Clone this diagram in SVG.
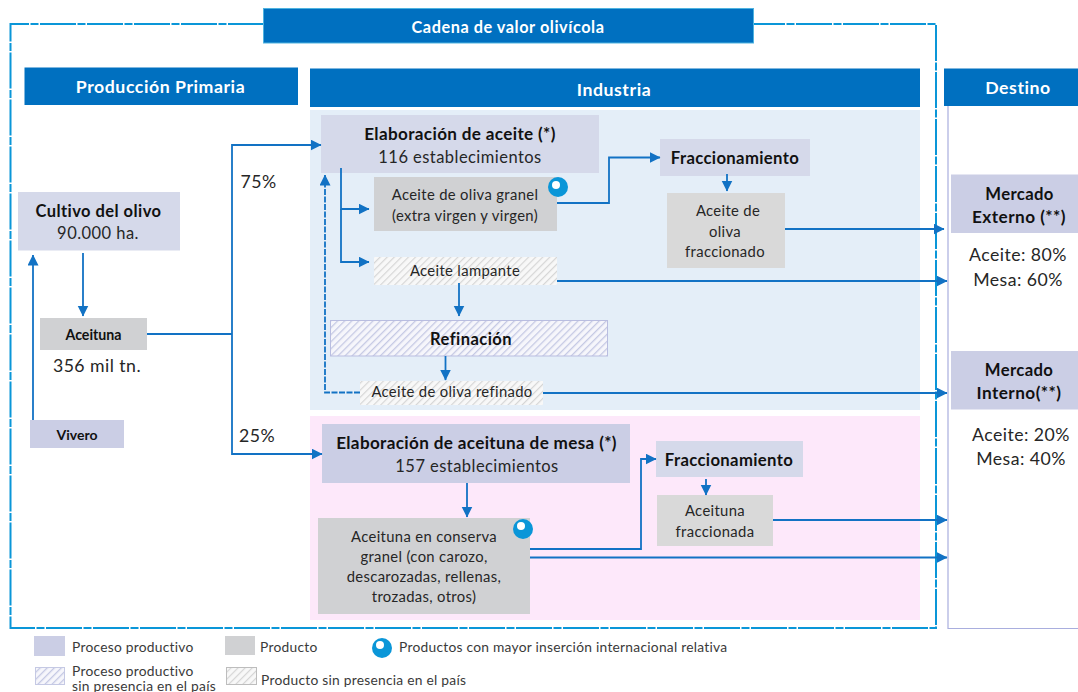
<svg xmlns="http://www.w3.org/2000/svg" width="1078" height="692" viewBox="0 0 1078 692">
<style>
text{font-family:"Lato","Open Sans","Liberation Sans",sans-serif;fill:#262626;transform:translateY(1px)}
.c{text-anchor:middle}
.b{font-weight:700;fill:#111}
.h{font-weight:700;fill:#fff;font-size:17.7px;letter-spacing:.55px}
.t15{font-size:16.700px;letter-spacing:.35px}
.t16{font-size:16.500px;letter-spacing:.45px}
.t17{font-size:17.700px;letter-spacing:.45px}
.t13{font-size:14.800px;letter-spacing:.35px}
.l{font-size:13.800px;letter-spacing:.25px;fill:#3a3a3a}
.head{fill:#0070c0}
.proc{fill:#cbcee5}
.procl{fill:#d5d9ea}
.prod{fill:#d0d1d3}
.prodl{fill:#d9d9d9}
.conn{fill:none;stroke:#1272c4;stroke-width:1.800}
.bub{fill:#0a96d8}
</style>
<defs>
<marker id="a" markerUnits="userSpaceOnUse" markerWidth="11" markerHeight="12" refX="10.500" refY="5.500" orient="auto"><path d="M0 0L11 5.500L0 11z" fill="#1272c4"/></marker>
<pattern id="hg" patternUnits="userSpaceOnUse" width="5" height="5" patternTransform="rotate(-45)"><rect width="5" height="5" fill="#f8f8f8"/><rect width="5" height="1.200" fill="#d6d6d6"/></pattern>
<pattern id="hp" patternUnits="userSpaceOnUse" width="5" height="5" patternTransform="rotate(-45)"><rect width="5" height="5" fill="#f6f6fb"/><rect width="5" height="1.300" fill="#c5c9e4"/></pattern>
</defs>

<g id="marco">
<path d="M264 24H10.500V628H936V24H753" fill="none" stroke="#0a96d8" stroke-width="2" stroke-dasharray="36 1.500 8 1.500"/>
<path d="M948 106V628.500H1078" fill="none" stroke="#a9aede" stroke-width="1.200"/>
</g>

<g id="fondos">
<rect x="310" y="110" width="610" height="300" fill="#e4eef8"/>
<rect x="310" y="416" width="610" height="204" fill="#fde8fa"/>
</g>

<g id="titulo"><rect x="263.500" y="8.500" width="490" height="34.500" class="head" stroke="#4fb3e0"/><text x="508" y="32" class="c b" style="fill:#fff;font-size:16.300px;letter-spacing:.55px">Cadena de valor olivícola</text></g>
<g id="produccion-primaria"><rect x="24.500" y="67.500" width="273.500" height="37.500" class="head"/><text x="160.500" y="92" class="c h">Producción Primaria</text></g>
<g id="industria"><rect x="310" y="68.500" width="610" height="38.500" class="head"/><text x="614" y="95" class="c h">Industria</text></g>
<g id="destino"><rect x="944" y="68.500" width="134" height="37.500" class="head"/><text x="1018" y="93" class="c h">Destino</text></g>

<g id="cultivo"><rect x="18" y="192" width="162" height="58.500" class="procl"/><text x="98.500" y="216" class="c b t16">Cultivo del olivo</text><text x="98" y="238" class="c" style="font-size:16.500px;letter-spacing:.45px">90.000 ha.</text></g>
<g id="aceituna"><rect x="40" y="318" width="107" height="32" class="prod"/><text x="93.500" y="339" class="c b" font-size="14.200">Aceituna</text><text x="97" y="371" class="c t17">356 mil tn.</text></g>
<g id="vivero"><rect x="30" y="420" width="94" height="28" class="proc"/><text x="77" y="439" class="c b" font-size="14">Vivero</text></g>

<g id="elaboracion-aceite"><rect x="321" y="115" width="278" height="58" class="procl"/><text x="460" y="139" class="c b" style="font-size:17.100px;letter-spacing:.35px">Elaboración de aceite (*)</text><text x="460" y="162" class="c t16">116 establecimientos</text></g>
<g id="aceite-granel"><rect x="374" y="177" width="183" height="54" class="prod"/><text x="465" y="199" class="c t13">Aceite de oliva granel</text><text x="465" y="220" class="c t13">(extra virgen y virgen)</text><circle cx="558" cy="187" r="10" class="bub"/><circle cx="556" cy="185" r="4" fill="#fff"/></g>
<g id="aceite-lampante"><rect x="374" y="257" width="183" height="28" fill="url(#hg)"/><text x="465" y="275" class="c t13">Aceite lampante</text></g>
<g id="refinacion"><rect x="330.500" y="320.500" width="277" height="35.500" fill="url(#hp)" stroke="#b9bde0"/><text x="471" y="344" class="c b t16">Refinación</text></g>
<g id="aceite-refinado"><rect x="360" y="381" width="183" height="24" fill="url(#hg)"/><text x="452" y="396" class="c t13">Aceite de oliva refinado</text></g>
<g id="fraccionamiento-aceite"><rect x="660" y="139" width="150" height="37" class="procl"/><text x="735" y="163" class="c b t15">Fraccionamiento</text></g>
<g id="aceite-fraccionado"><rect x="667" y="193" width="118" height="75" class="prodl"/><text x="728" y="215" class="c t13">Aceite de</text><text x="725" y="236" class="c t13">oliva</text><text x="725" y="256" class="c t13">fraccionado</text></g>

<g id="elaboracion-mesa"><rect x="322" y="424" width="308" height="59" class="proc"/><text x="476.500" y="448" class="c b" style="font-size:17.100px;letter-spacing:.35px">Elaboración de aceituna de mesa (*)</text><text x="477" y="471" class="c t16">157 establecimientos</text></g>
<g id="aceituna-conserva"><rect x="318" y="518" width="212" height="96" class="prod"/><text x="424" y="541" class="c t13">Aceituna en conserva</text><text x="424" y="561" class="c t13">granel (con carozo,</text><text x="424" y="581" class="c t13">descarozadas, rellenas,</text><text x="424" y="601" class="c t13">trozadas, otros)</text><circle cx="523" cy="529" r="10" class="bub"/><circle cx="521" cy="526" r="4" fill="#fff"/></g>
<g id="fraccionamiento-mesa"><rect x="656" y="441" width="147" height="36" class="procl"/><text x="729" y="465" class="c b t15">Fraccionamiento</text></g>
<g id="aceituna-fraccionada"><rect x="657" y="495" width="116" height="51" class="prodl"/><text x="715" y="515" class="c t13">Aceituna</text><text x="715" y="536" class="c t13">fraccionada</text></g>

<g id="mercado-externo"><rect x="951" y="174.500" width="127" height="58.500" class="proc"/><text x="1019.500" y="199" class="c b t15">Mercado</text><text x="1019" y="222" class="c b" style="font-size:17.200px;letter-spacing:.45px">Externo (**)</text><text x="1018" y="260" class="c t17">Aceite: 80%</text><text x="1018" y="285" class="c t17">Mesa: 60%</text></g>
<g id="mercado-interno"><rect x="951" y="351" width="127" height="58.500" class="proc"/><text x="1019" y="375" class="c b t15">Mercado</text><text x="1019" y="398" class="c b" style="font-size:17.200px;letter-spacing:.45px">Interno(**)</text><text x="1021" y="440" class="c t17">Aceite: 20%</text><text x="1021" y="464" class="c t17">Mesa: 40%</text></g>

<g id="conectores">
<path class="conn" marker-end="url(#a)" d="M83 253V316"/>
<path class="conn" marker-end="url(#a)" d="M33 420V255"/>
<path class="conn" d="M147 334H232"/>
<path class="conn" marker-end="url(#a)" d="M232 334V145H321"/>
<path class="conn" marker-end="url(#a)" d="M232 334V454H322"/>
<path class="conn" marker-end="url(#a)" d="M341 168V209H369"/>
<path class="conn" marker-end="url(#a)" d="M341 209V262H369"/>
<path class="conn" marker-end="url(#a)" d="M459 283V316"/>
<path class="conn" marker-end="url(#a)" d="M445.500 356V380"/>
<path class="conn" marker-end="url(#a)" stroke-dasharray="6 1.500" d="M360 392.500H325V175"/>
<path class="conn" marker-end="url(#a)" d="M557 203H609V157.500H660"/>
<path class="conn" marker-end="url(#a)" d="M727 174V191"/>
<path class="conn" marker-end="url(#a)" d="M785 229H944"/>
<path class="conn" marker-end="url(#a)" d="M557 281H947"/>
<path class="conn" marker-end="url(#a)" d="M543 393H947"/>
<path class="conn" marker-end="url(#a)" d="M467 483V517"/>
<path class="conn" marker-end="url(#a)" d="M530 549H641V459H656"/>
<path class="conn" marker-end="url(#a)" d="M530 557.500H947"/>
<path class="conn" marker-end="url(#a)" d="M706 479V495"/>
<path class="conn" marker-end="url(#a)" d="M773 520H947"/>
</g>

<g id="porcentajes">
<text x="258.500" y="187" class="c t17">75%</text>
<text x="257" y="441" class="c t17">25%</text>
</g>

<g id="leyenda">
<rect x="34" y="636" width="31" height="20" class="proc"/><text x="72" y="651" class="l">Proceso productivo</text>
<rect x="225" y="636" width="30" height="19" class="prod"/><text x="260" y="651" class="l">Producto</text>
<circle cx="382" cy="648" r="10" class="bub"/><circle cx="380" cy="645" r="4" fill="#fff"/><text x="399" y="651" class="l">Productos con mayor inserción internacional relativa</text>
<rect x="35.500" y="667.500" width="29" height="17" fill="url(#hp)" stroke="#c5c9e4"/><text x="72" y="675" class="l">Proceso productivo</text><text x="72" y="690" class="l">sin presencia en el país</text>
<rect x="226.500" y="667.500" width="30" height="17" fill="url(#hg)" stroke="#bdbdbd"/><text x="261" y="684" class="l">Producto sin presencia en el país</text>
</g>
</svg>
